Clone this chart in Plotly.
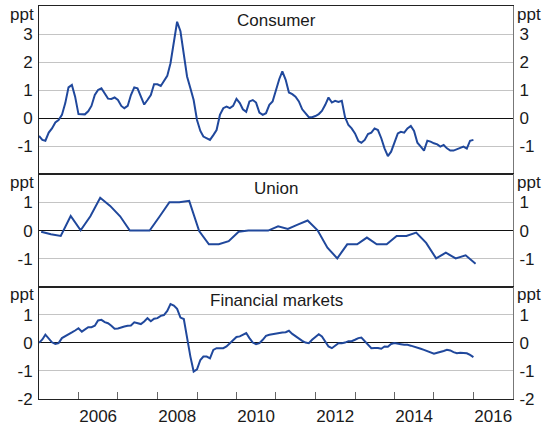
import pandas as pd
import plotly.graph_objects as go

# Monthly contributions, Jan 2005 onwards (ppt)
consumer = [
    -0.63, -0.77, -0.80, -0.51, -0.36, -0.15, -0.06, 0.12, 0.54, 1.10, 1.19, 0.77,
    0.15, 0.14, 0.14, 0.25, 0.44, 0.83, 1.01, 1.07, 0.89, 0.70, 0.69, 0.74,
    0.65, 0.44, 0.36, 0.44, 0.83, 1.10, 1.07, 0.80, 0.49, 0.65, 0.83, 1.21,
    1.21, 1.15, 1.33, 1.51, 1.96, 2.71, 3.44, 3.10, 2.32, 1.49, 1.07, 0.65,
    -0.06, -0.45, -0.65, -0.70, -0.77, -0.60, -0.42, 0.12, 0.36, 0.42, 0.36, 0.44,
    0.69, 0.54, 0.32, 0.23, 0.60, 0.65, 0.56, 0.20, 0.12, 0.18, 0.48, 0.60,
    1.05, 1.40, 1.67, 1.37, 0.92, 0.86, 0.77, 0.60, 0.32, 0.18, 0.04, 0.04,
    0.08, 0.15, 0.26, 0.48, 0.74, 0.56, 0.62, 0.58, 0.62, 0.04, -0.24, -0.36,
    -0.54, -0.81, -0.87, -0.77, -0.56, -0.51, -0.36, -0.42, -0.71, -1.07, -1.35, -1.19,
    -0.83, -0.54, -0.48, -0.51, -0.36, -0.27, -0.45, -0.87, -1.01, -1.15, -0.80, -0.83,
    -0.89, -0.93, -1.01, -0.95, -1.07, -1.15, -1.15, -1.11, -1.05, -1.01, -1.08, -0.80,
    -0.77,
]

financial = [
    0.00, 0.12, 0.29, 0.17, 0.02, -0.04, -0.01, 0.17, 0.23, 0.29, 0.37, 0.44,
    0.52, 0.40, 0.49, 0.56, 0.56, 0.61, 0.80, 0.82, 0.74, 0.70, 0.61, 0.50,
    0.51, 0.56, 0.58, 0.61, 0.62, 0.73, 0.70, 0.67, 0.76, 0.88, 0.77, 0.86,
    0.88, 0.96, 0.99, 1.14, 1.38, 1.33, 1.21, 0.90, 0.85, 0.11, -0.49, -1.02,
    -0.94, -0.61, -0.49, -0.49, -0.55, -0.25, -0.19, -0.19, -0.19, -0.13, -0.01, 0.11,
    0.21, 0.23, 0.29, 0.35, 0.17, 0.01, -0.05, -0.01, 0.11, 0.25, 0.29, 0.31,
    0.35, 0.36, 0.37, 0.38, 0.43, 0.32, 0.23, 0.14, 0.07, 0.01, -0.01, 0.11,
    0.20, 0.31, 0.23, 0.02, -0.13, -0.19, -0.11, -0.01, -0.01, 0.01, 0.06, 0.06,
    0.11, 0.17, 0.19, 0.07, -0.07, -0.19, -0.18, -0.18, -0.21, -0.13, -0.14, -0.04,
    -0.01, -0.04, -0.05, -0.07, -0.07, -0.10, -0.13, -0.17, -0.21, -0.25, -0.29, -0.35,
    -0.39, -0.35, -0.33, -0.29, -0.25, -0.27, -0.33, -0.37, -0.35, -0.35, -0.37, -0.43,
    -0.51,
]

# Quarterly series
union = [
    -0.04, -0.13, -0.19, 0.52, 0.01, 0.51, 1.17, 0.88, 0.51, 0.00, 0.00, 0.00,
    0.50, 1.01, 1.01, 1.06, -0.02, -0.49, -0.49, -0.38, -0.04, 0.00, 0.00, 0.00,
    0.15, 0.06, 0.21, 0.36, 0.01, -0.61, -0.99, -0.49, -0.49, -0.25, -0.49, -0.49,
    -0.19, -0.19, -0.07, -0.44, -0.99, -0.79, -0.99, -0.88, -1.18,
]

panel_titles = ["Consumer", "Union", "Financial markets"]
year_labels = ["2006", "2008", "2010", "2012", "2014", "2016"]

monthly_dates = pd.date_range("2005-01-01", periods=len(consumer), freq="MS")
quarterly_dates = pd.date_range("2005-01-01", periods=len(union), freq="QS") + pd.Timedelta(days=20)

LINE = "#20489c"
FONT = "Liberation Sans, Arial, sans-serif"
TXT = "#1a1a1a"
FS = 17

# panel domains (bottom to top share 4:4:6 units)
total = 14.0
dom3 = [0, 4 / total]
dom2 = [4 / total, 8 / total]
dom1 = [8 / total, 1]

xr = ["2005-01-01", "2017-01-01"]

series = [(monthly_dates, consumer), (quarterly_dates, union), (monthly_dates, financial)]

fig = go.Figure()
for i, (dx, dy) in enumerate(series):
    n = "" if i == 0 else str(i + 1)
    fig.add_trace(go.Scatter(x=dx, y=dy, xaxis="x" + n, yaxis="y" + n,
                             mode="lines", line=dict(color=LINE, width=2),
                             showlegend=False))
    # same data on the right-hand scale so that axis gets drawn
    fig.add_trace(go.Scatter(x=dx, y=dy, xaxis="x" + n, yaxis="y" + str(i + 4),
                             mode="lines", line=dict(color=LINE, width=0), opacity=0,
                             hoverinfo="skip", showlegend=False))
# carrier for the year-label axis under the bottom panel
fig.add_trace(go.Scatter(x=monthly_dates, y=financial, xaxis="x4", yaxis="y3",
                         mode="lines", line=dict(color=LINE, width=0), opacity=0,
                         hoverinfo="skip", showlegend=False))

xcommon = dict(type="date", range=xr, showgrid=False, zeroline=False, automargin=False,
               showline=True, mirror=True, linecolor="#222", linewidth=1)

mid_years = [pd.Timestamp(f"{y}-07-02") for y in year_labels]
year_starts = [f"{y}-01-01" for y in range(2006, 2017)]

ycommon = dict(showgrid=True, gridcolor="#c4c4c4", gridwidth=1, automargin=False,
               zeroline=True, zerolinecolor="#111", zerolinewidth=1,
               showline=True, linecolor="#222", linewidth=1, ticks="",
               tickfont=dict(family=FONT, size=FS, color=TXT), fixedrange=True)
yright = dict(showgrid=False, zeroline=False, showline=True, linecolor="#777",
              linewidth=1, ticks="", side="right", automargin=False,
              tickfont=dict(family=FONT, size=FS, color=TXT))

panels = [
    dict(dom=dom1, rng=[-2, 4], vals=[-1, 0, 1, 2, 3]),
    dict(dom=dom2, rng=[-2, 2], vals=[-1, 0, 1]),
    dict(dom=dom3, rng=[-2, 2], vals=[-2, -1, 0, 1]),
]

layout = dict(
    width=551, height=426,
    margin=dict(l=39, r=38, t=6, b=27, autoexpand=False),
    paper_bgcolor="white", plot_bgcolor="white",
    font=dict(family=FONT, size=FS, color=TXT),
    xaxis=dict(xcommon, anchor="y", showticklabels=False, ticks=""),
    xaxis2=dict(xcommon, anchor="y2", showticklabels=False, ticks=""),
    # year boundaries: short inward ticks, no text
    xaxis3=dict(xcommon, anchor="y3", tickmode="array", tickvals=year_starts,
                ticktext=[""] * len(year_starts),
                ticks="inside", ticklen=7, tickcolor="#666", tickwidth=1,
                showticklabels=True),
    # year labels centred on each even year
    xaxis4=dict(type="date", range=xr, overlaying="x3", anchor="y3", side="bottom",
                showgrid=False, zeroline=False, showline=False, ticks="",
                automargin=False, tickmode="array", tickvals=mid_years,
                ticktext=year_labels, ticklabelstandoff=5,
                tickfont=dict(family=FONT, size=FS, color=TXT)),
    showlegend=False,
)

annotations = []
for i, p in enumerate(panels):
    n = "" if i == 0 else str(i + 1)
    rn = str(i + 4)
    layout["yaxis" + n] = dict(ycommon, domain=p["dom"], range=p["rng"], anchor="x" + n,
                               tickmode="array", tickvals=p["vals"],
                               ticktext=[str(v) for v in p["vals"]], ticklabelstandoff=2)
    layout["yaxis" + rn] = dict(yright, range=p["rng"], anchor="x" + n,
                                overlaying="y" + n, tickmode="array", tickvals=p["vals"],
                                ticktext=[str(v) for v in p["vals"]], ticklabelstandoff=2)
    top = p["rng"][1]
    annotations.append(dict(text="ppt", xref="paper", x=0, xanchor="right", xshift=-3,
                            yref="y" + n, y=top, yanchor="middle", yshift=-8,
                            showarrow=False, font=dict(family=FONT, size=FS, color=TXT)))
    annotations.append(dict(text="ppt", xref="paper", x=1, xanchor="left", xshift=2,
                            yref="y" + n, y=top, yanchor="middle", yshift=-8,
                            showarrow=False, font=dict(family=FONT, size=FS, color=TXT)))
    annotations.append(dict(text=panel_titles[i], xref="paper", x=0.5, xanchor="center",
                            yref="y" + n, y=top, yanchor="middle", yshift=-14,
                            showarrow=False, font=dict(family=FONT, size=FS, color=TXT)))

layout["annotations"] = annotations
fig.update_layout(**layout)

fig.write_html("out.html")
